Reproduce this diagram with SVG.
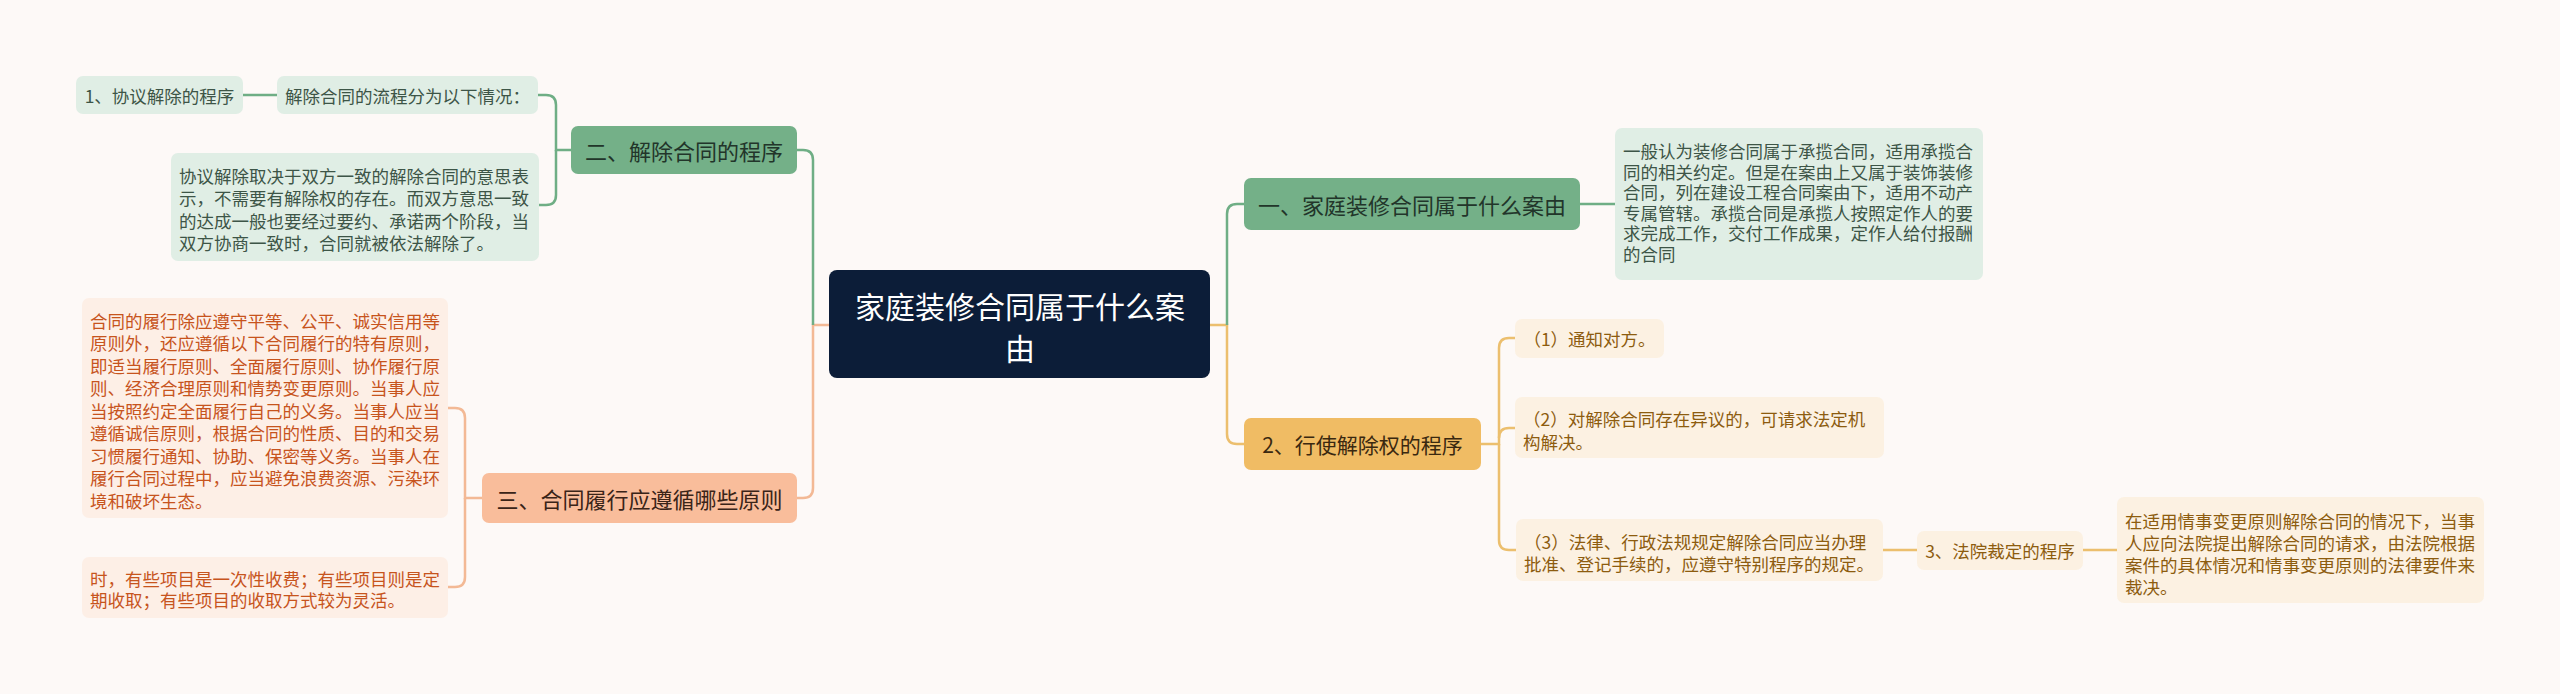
<svg xmlns="http://www.w3.org/2000/svg" width="2560" height="694" viewBox="0 0 2560 694">
<style>
text{font-family:"Noto Sans CJK SC","Noto Sans",sans-serif;dominant-baseline:central}
.c{text-anchor:middle}
.root rect{fill:#0c1d38}
.root text{fill:#ffffff;font-size:30px}
.gm rect{fill:#74b088}
.gm text{fill:#22352a;font-size:22px}
.om rect{fill:#f0bc64}
.om text{fill:#3a2810;font-size:21px}
.pm rect{fill:#f9bd9b}
.pm text{fill:#3a2418;font-size:22px}
.gl rect{fill:#e0eee5}
.gl text{fill:#3d5547;font-size:17.5px}
.ol rect{fill:#fcf1e2}
.ol text{fill:#8d5c0f;font-size:17.5px}
.pl rect{fill:#fdefe6}
.pl text{fill:#c7541d;font-size:17.5px}
.lg{fill:none;stroke:#6fae85;stroke-width:2.5}
.lo{fill:none;stroke:#ecbf6e;stroke-width:2.5}
.lp{fill:none;stroke:#f3b995;stroke-width:2.5}
</style>
<rect width="2560" height="694" fill="#fdf9f7"/>
<g id="connectors">
<path class="lp" d="M829,325 H813 V488 Q813,498 803,498 H797"/>
<path class="lg" d="M813,325 V160 Q813,150 803,150 H797"/>
<path class="lg" d="M571,150 H556 V105 Q556,95 546,95 H538"/>
<path class="lg" d="M556,150 V195 Q556,205 546,205 H539"/>
<path class="lg" d="M243,95 H277"/>
<path class="lp" d="M482,498 H465 V418 Q465,408 455,408 H448"/>
<path class="lp" d="M465,498 V577 Q465,587 455,587 H448"/>
<path class="lo" d="M1210,325 H1227 V434 Q1227,444 1237,444 H1244"/>
<path class="lg" d="M1227,325 V214 Q1227,204 1237,204 H1244"/>
<path class="lg" d="M1580,204 H1615"/>
<path class="lo" d="M1481,444 H1499 V348 Q1499,338 1509,338 H1515"/>
<path class="lo" d="M1499,438 Q1499,428 1509,428 H1515"/>
<path class="lo" d="M1499,444 V540 Q1499,550 1509,550 H1516"/>
<path class="lo" d="M1883,550 H1917"/>
<path class="lo" d="M2083,550 H2117"/>
</g>
<g id="root" class="root">
<rect x="829" y="270" width="381" height="108" rx="8"/>
<text class="c" x="1020" y="305">家庭装修合同属于什么案</text>
<text class="c" x="1020" y="347">由</text>
</g>
<g id="n-yi" class="gm">
<rect x="1244" y="178" width="336" height="52" rx="7"/>
<text class="c" x="1412" y="204">一、家庭装修合同属于什么案由</text>
</g>
<g id="n-yi-leaf" class="gl">
<rect x="1615" y="128" width="368" height="152" rx="7"/>
<text x="1623" y="150">一般认为装修合同属于承揽合同，适用承揽合</text>
<text x="1623" y="171">同的相关约定。但是在案由上又属于装饰装修</text>
<text x="1623" y="191.5">合同，列在建设工程合同案由下，适用不动产</text>
<text x="1623" y="212">专属管辖。承揽合同是承揽人按照定作人的要</text>
<text x="1623" y="232.5">求完成工作，交付工作成果，定作人给付报酬</text>
<text x="1623" y="253">的合同</text>
</g>
<g id="n-2" class="om">
<rect x="1244" y="418" width="237" height="52" rx="7"/>
<text class="c" x="1362.5" y="444">2、行使解除权的程序</text>
</g>
<g id="n-2-1" class="ol">
<rect x="1515" y="319" width="149" height="39" rx="7"/>
<text class="c" x="1589.5" y="338.5">（1）通知对方。</text>
</g>
<g id="n-2-2" class="ol">
<rect x="1515" y="397" width="369" height="61" rx="7"/>
<text x="1523" y="418">（2）对解除合同存在异议的，可请求法定机</text>
<text x="1523" y="441">构解决。</text>
</g>
<g id="n-2-3" class="ol">
<rect x="1516" y="519" width="367" height="62" rx="7"/>
<text x="1524" y="541">（3）法律、行政法规规定解除合同应当办理</text>
<text x="1524" y="563">批准、登记手续的，应遵守特别程序的规定。</text>
</g>
<g id="n-3" class="ol">
<rect x="1917" y="531" width="166" height="39" rx="7"/>
<text class="c" x="2000" y="550.5">3、法院裁定的程序</text>
</g>
<g id="n-3-leaf" class="ol">
<rect x="2117" y="497" width="367" height="106" rx="7"/>
<text x="2125" y="520">在适用情事变更原则解除合同的情况下，当事</text>
<text x="2125" y="542">人应向法院提出解除合同的请求，由法院根据</text>
<text x="2125" y="564">案件的具体情况和情事变更原则的法律要件来</text>
<text x="2125" y="586">裁决。</text>
</g>
<g id="n-er" class="gm">
<rect x="571" y="126" width="226" height="48" rx="7"/>
<text class="c" x="684" y="150">二、解除合同的程序</text>
</g>
<g id="n-er-a" class="gl">
<rect x="277" y="76" width="261" height="38" rx="7"/>
<text class="c" x="407.5" y="95">解除合同的流程分为以下情况：</text>
</g>
<g id="n-er-a1" class="gl">
<rect x="76" y="76" width="167" height="38" rx="7"/>
<text class="c" x="159.5" y="95">1、协议解除的程序</text>
</g>
<g id="n-er-b" class="gl">
<rect x="171" y="153" width="368" height="108" rx="7"/>
<text x="179" y="175">协议解除取决于双方一致的解除合同的意思表</text>
<text x="179" y="197.5">示，不需要有解除权的存在。而双方意思一致</text>
<text x="179" y="220">的达成一般也要经过要约、承诺两个阶段，当</text>
<text x="179" y="242.5">双方协商一致时，合同就被依法解除了。</text>
</g>
<g id="n-san" class="pm">
<rect x="482" y="473" width="315" height="50" rx="7"/>
<text class="c" x="639.5" y="498">三、合同履行应遵循哪些原则</text>
</g>
<g id="n-san-a" class="pl">
<rect x="82" y="298" width="366" height="220" rx="7"/>
<text x="90" y="320">合同的履行除应遵守平等、公平、诚实信用等</text>
<text x="90" y="342.5">原则外，还应遵循以下合同履行的特有原则，</text>
<text x="90" y="365">即适当履行原则、全面履行原则、协作履行原</text>
<text x="90" y="387.5">则、经济合理原则和情势变更原则。当事人应</text>
<text x="90" y="410">当按照约定全面履行自己的义务。当事人应当</text>
<text x="90" y="432.5">遵循诚信原则，根据合同的性质、目的和交易</text>
<text x="90" y="455">习惯履行通知、协助、保密等义务。当事人在</text>
<text x="90" y="477.5">履行合同过程中，应当避免浪费资源、污染环</text>
<text x="90" y="500">境和破坏生态。</text>
</g>
<g id="n-san-b" class="pl">
<rect x="82" y="557" width="366" height="61" rx="7"/>
<text x="90" y="578">时，有些项目是一次性收费；有些项目则是定</text>
<text x="90" y="599">期收取；有些项目的收取方式较为灵活。</text>
</g>
</svg>
